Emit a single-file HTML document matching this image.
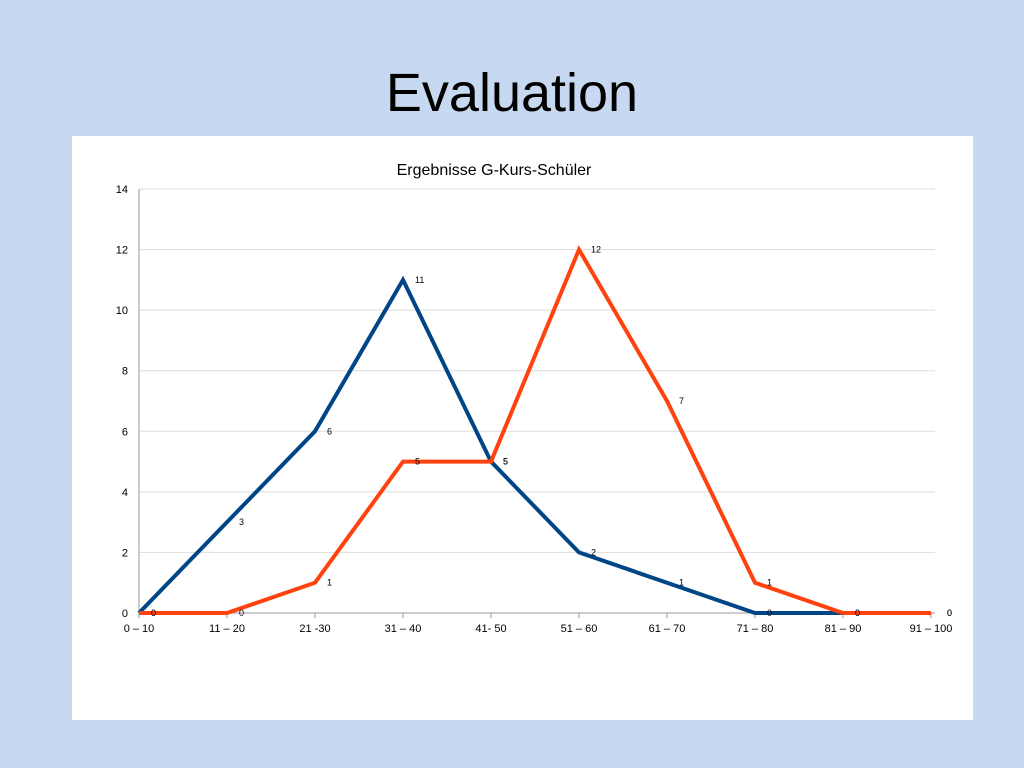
<!DOCTYPE html>
<html><head><meta charset="utf-8"><style>
body{margin:0;width:1024px;height:768px;background:#c6d9f0;overflow:hidden;font-family:"Liberation Sans",sans-serif}
#title{position:absolute;left:0;top:62px;width:1024px;text-align:center;font-size:54px;color:#000}
#panel{position:absolute;left:72px;top:136px;width:901px;height:584px;background:#fff}
</style></head><body>
<div id="title">Evaluation</div>
<div id="panel"></div>
<svg id="chart" width="1024" height="768" style="position:absolute;left:0;top:0" font-family="Liberation Sans, sans-serif"></svg>
<script>
const categories=["0 – 10","11 – 20","21 -30","31 – 40","41- 50","51 – 60","61 – 70","71 – 80","81 – 90","91 – 100"];
const blueValues=[0,3,6,11,5,2,1,0,0,0];
const redValues=[0,0,1,5,5,12,7,1,0,0];
const yTicks=[0,2,4,6,8,10,12,14];
const svg=document.getElementById('chart');
const NS='http://www.w3.org/2000/svg';
const x0=139,step=88,yb=613,yt=189,ymax=14;
const X=i=>x0+i*step, Y=v=>yb-(v/ymax)*(yb-yt);
function mk(t,a,p){const e=document.createElementNS(NS,t);for(const k in a)e.setAttribute(k,a[k]);(p||svg).appendChild(e);return e;}
const tt=mk('text',{x:494,y:175,'text-anchor':'middle','font-size':16});tt.textContent='Ergebnisse G-Kurs-Schüler';


yTicks.forEach(v=>{
 const g=mk('line',{x1:x0,x2:935,y1:Y(v),y2:Y(v),stroke:v===0?'#999':'#ddd','stroke-width':1});
 
 
 const t=mk('text',{x:128,y:Y(v)+4,'text-anchor':'end','font-size':11});t.textContent=v;
 
 
});
const ax=mk('line',{x1:x0,x2:x0,y1:yt,y2:yb,stroke:'#999'});


categories.forEach((c,i)=>{
 const tk=mk('line',{x1:X(i),x2:X(i),y1:yb,y2:yb+5,stroke:'#999'});
 
 
 const t=mk('text',{x:X(i),y:632,'text-anchor':'middle','font-size':11});t.textContent=c;
 
 
});
function series(vals,color,name){
 const p=mk('polyline',{points:vals.map((v,i)=>X(i)+','+Y(v)).join(' '),fill:'none',stroke:color,'stroke-width':4,'stroke-linejoin':'miter'});
 
 
 vals.forEach((v,i)=>{
  const t=mk('text',{x:X(i)+(i===vals.length-1?16:12),y:Y(v)+3,'font-size':9});t.textContent=v;
  
  
 });
}
series(blueValues,'#004586','blue-series');
series(redValues,'#ff420e','red-series');
</script>
</body></html>
